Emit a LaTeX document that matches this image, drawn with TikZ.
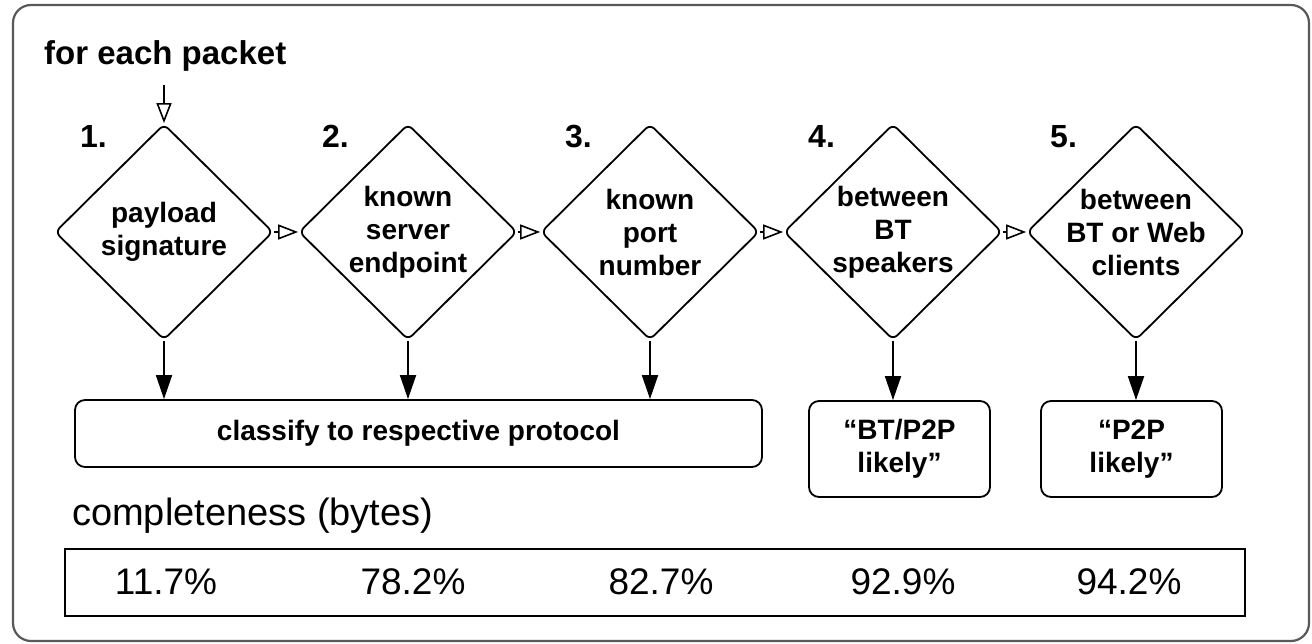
\documentclass[tikz,border=0pt]{standalone}
\usepackage{fontspec}
\setmainfont{Liberation Sans}
\usetikzlibrary{shapes.geometric,arrows.meta}
\tikzset{
  dia/.style={shape=diamond,draw,line width=1.8pt,rounded corners=6pt,minimum width=218pt,minimum height=216pt,inner sep=-22pt,align=center,font=\bfseries\fontsize{28}{33}\selectfont},
  rbox/.style={draw,line width=1.8pt,rounded corners=10pt,align=center,font=\bfseries\fontsize{28}{33}\selectfont},
  num/.style={anchor=base west,inner sep=0pt,font=\bfseries\fontsize{32}{36}\selectfont},
  pct/.style={inner sep=0pt,font=\fontsize{37}{40}\selectfont},
  hop/.style={line width=1.8pt,-{Triangle[open,length=20pt,width=15pt,line width=1.6pt]}},
  down/.style={line width=1.8pt,-{Triangle[length=24pt,width=16pt]}}
}
\begin{document}
\begin{tikzpicture}[x=1pt,y=-1pt]
\useasboundingbox (0,0) rectangle (1312,644);
\draw[line width=2.2pt,color=black!65,rounded corners=18pt] (13,5) rectangle (1309,641);
\node[anchor=base west,inner sep=0pt,font=\bfseries\fontsize{33}{38}\selectfont] (fep) at (44,65) {for each packet};
\node[dia] (d1) at (164,232) {payload\\signature};
\node[dia] (d2) at (408,232) {known\\server\\endpoint};
\node[dia] (d3) at (650,232) {known\\port\\number};
\node[dia] (d4) at (893,232) {between\\BT\\speakers};
\node[dia] (d5) at (1136,232) {between\\BT or Web\\clients};
\node[num] (n1) at (80,148) {1.};
\node[num] (n2) at (322,148) {2.};
\node[num] (n3) at (565,148) {3.};
\node[num] (n4) at (808,148) {4.};
\node[num] (n5) at (1050,148) {5.};
\coordinate (start) at (164,85);
\draw[hop] (start) -- (d1.north);
\draw[hop] (d1.east) -- (d2.west);
\draw[hop] (d2.east) -- (d3.west);
\draw[hop] (d3.east) -- (d4.west);
\draw[hop] (d4.east) -- (d5.west);
\node[rbox,minimum width=687pt,minimum height=67pt] (cls) at (418.5,433.5) {classify to respective protocol};
\node[rbox,minimum width=181pt,minimum height=96pt] (bt) at (899.5,449) {“BT/P2P\\likely”};
\node[rbox,minimum width=181pt,minimum height=96pt] (pp) at (1131.5,449) {“P2P\\likely”};
\draw[down] (d1.south) -- (d1.south |- cls.north);
\draw[down] (d2.south) -- (d2.south |- cls.north);
\draw[down] (d3.south) -- (d3.south |- cls.north);
\draw[down] (d4.south) -- (d4.south |- bt.north);
\draw[down] (d5.south) -- (d5.south |- pp.north);
\node[anchor=base west,inner sep=0pt,font=\fontsize{38}{42}\selectfont] (comp) at (72,525) {completeness (bytes)};
\node[draw,line width=1.8pt,minimum width=1180pt,minimum height=67pt,inner sep=0pt] (pbox) at (655,582.5) {};
\node[pct] (p1) at (166,582) {11.7\%};
\node[pct] (p2) at (413,582) {78.2\%};
\node[pct] (p3) at (661,582) {82.7\%};
\node[pct] (p4) at (903,582) {92.9\%};
\node[pct] (p5) at (1129,582) {94.2\%};
\end{tikzpicture}
\end{document}
